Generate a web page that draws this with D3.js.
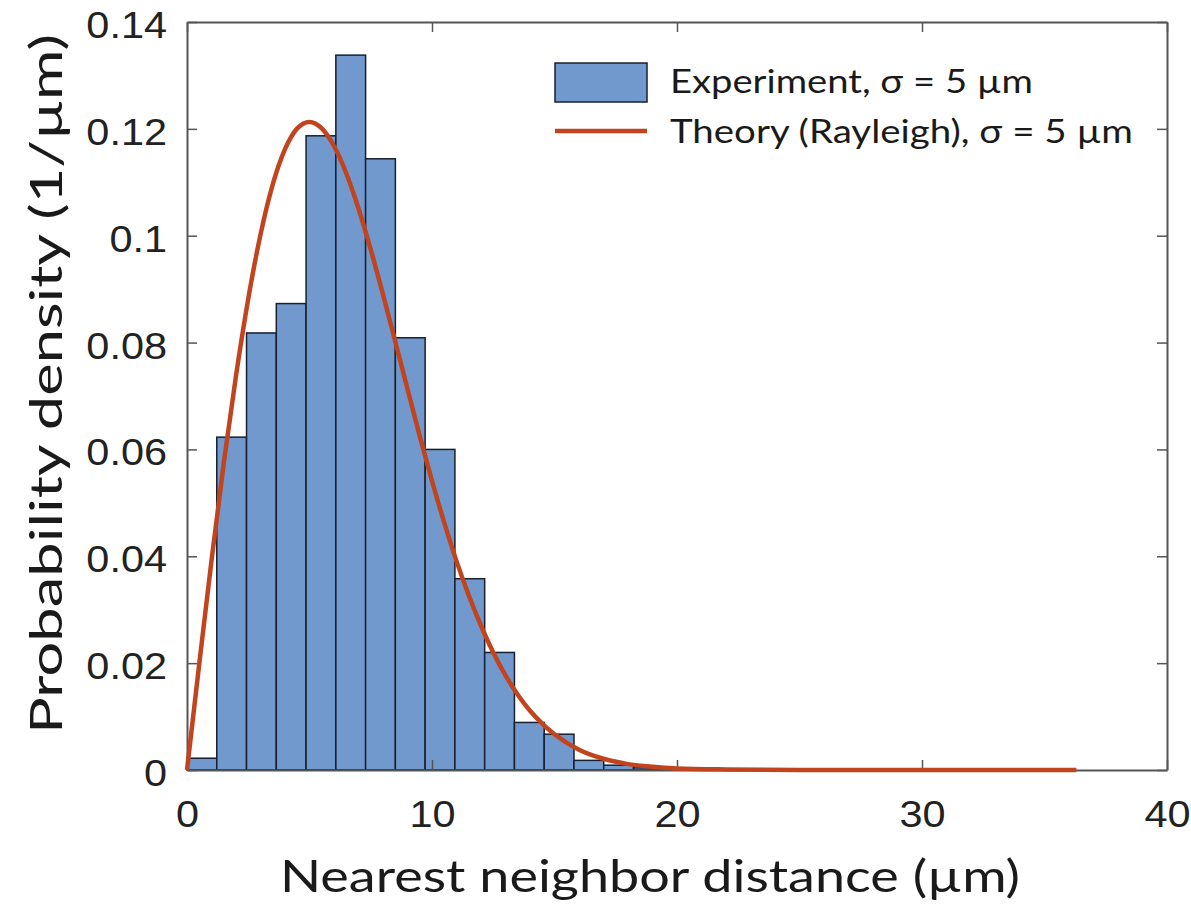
<!DOCTYPE html>
<html>
<head>
<meta charset="utf-8">
<script src="https://cdn.jsdelivr.net/npm/d3@7"></script>
<style>
  body { margin: 0; background: #fff; }
  svg { display: block; }
</style>
</head>
<body>
<svg id="chart"></svg>
<script>
'use strict';

// histogram bins (width in um) and heights
var binWidth = 1.215;
var binHeights = [0.0022, 0.0623, 0.0818, 0.0873, 0.1187, 0.1338, 0.1144, 0.0809,
  0.0600, 0.0358, 0.0220, 0.0089, 0.0067, 0.0018, 0.0009, 0.0004, 0.0002];

var curveX = [0, 0.5, 1, 1.5, 2, 2.5, 3, 3.5, 4, 4.5, 5, 5.5, 6, 6.5, 7, 7.5, 8, 8.5,
  9, 9.5, 10, 10.5, 11, 11.5, 12, 12.5, 13, 13.5, 14, 14.5, 15, 16, 17, 18, 19, 20,
  22, 25, 30, 36.3];
var curveY = [0, 0.0199, 0.0392, 0.0574, 0.0738, 0.0882, 0.1002, 0.1096, 0.1162, 0.1201,
  0.1213, 0.1201, 0.1168, 0.1117, 0.1051, 0.0974, 0.0890, 0.0802, 0.0713, 0.0625,
  0.0541, 0.0463, 0.0391, 0.0327, 0.0270, 0.0220, 0.0177, 0.0141, 0.0111, 0.0087,
  0.0067, 0.0038, 0.0021, 0.0011, 0.0006, 0.0003, 0.0001, 0, 0, 0];

var xTicks = [0, 10, 20, 30, 40];
var yTicks = [0, 0.02, 0.04, 0.06, 0.08, 0.1, 0.12, 0.14];
var legendLabels = ['Experiment, \u03c3 = 5 \u00b5m', 'Theory (Rayleigh), \u03c3 = 5 \u00b5m'];

var canvasWidth = 1191;
var canvasHeight = 909;
var margin = {top: 22, right: 24, bottom: 139, left: 187};
var width = canvasWidth - margin.left - margin.right;
var height = canvasHeight - margin.top - margin.bottom;

var barFill = '#7199cd';
var curveColor = '#c1441e';
var axisColor = '#555';
var tickFont = '"Liberation Sans", Arial, sans-serif';
var labelFont = 'Lato, "Open Sans", sans-serif';
// the original figure is a bit wider than tall-true, so text is stretched sideways
var stretch = 1.12;

function widen(sel, factor) {
  sel.each(function() {
    var w = this.getComputedTextLength();
    d3.select(this)
      .attr('textLength', w * factor)
      .attr('lengthAdjust', 'spacingAndGlyphs');
  });
}

var svg = d3.select('#chart')
  .attr('width', canvasWidth)
  .attr('height', canvasHeight);

var g = svg.append('g')
  .attr('transform', 'translate(' + margin.left + ',' + margin.top + ')');

var xScale = d3.scaleLinear().domain([0, 40]).range([0, width]);
var yScale = d3.scaleLinear().domain([0, 0.14]).range([height, 0]);

// bars
g.selectAll('rect.bar')
  .data(binHeights)
  .enter()
  .append('rect')
  .attr('class', 'bar')
  .attr('x', function(d, i) { return xScale(i * binWidth); })
  .attr('y', function(d) { return yScale(d); })
  .attr('width', function(d, i) { return xScale((i + 1) * binWidth) - xScale(i * binWidth); })
  .attr('height', function(d) { return height - yScale(d); })
  .attr('fill', barFill)
  .attr('stroke', '#17202e')
  .attr('stroke-width', 1.5);

// axes (box with inward ticks)
function styleAxis(sel) {
  sel.selectAll('path.domain').attr('stroke', axisColor).attr('stroke-width', 2);
  sel.selectAll('.tick line').attr('stroke', axisColor).attr('stroke-width', 1.5);
  sel.selectAll('.tick text')
    .attr('fill', '#222')
    .style('font-family', tickFont)
    .style('font-size', '37px');
}

var xAxisG = g.append('g')
  .attr('transform', 'translate(0,' + height + ')')
  .call(d3.axisBottom(xScale).tickValues(xTicks).tickSizeInner(-10).tickSizeOuter(0)
    .tickPadding(31).tickFormat(d3.format('d')))
  .call(styleAxis);

var yAxisG = g.append('g')
  .call(d3.axisLeft(yScale).tickValues(yTicks).tickSizeInner(-10).tickSizeOuter(0)
    .tickPadding(20).tickFormat(function(d) { return d === 0 ? '0' : String(+d.toFixed(2)); }))
  .call(styleAxis);
yAxisG.selectAll('.tick text').attr('dy', '0.42em');

widen(xAxisG.selectAll('.tick text'), stretch);
widen(yAxisG.selectAll('.tick text'), stretch);

g.append('g')
  .call(d3.axisTop(xScale).tickValues(xTicks).tickSizeInner(-10).tickSizeOuter(0).tickFormat(''))
  .call(styleAxis);

g.append('g')
  .attr('transform', 'translate(' + width + ',0)')
  .call(d3.axisRight(yScale).tickValues(yTicks).tickSizeInner(-10).tickSizeOuter(0).tickFormat(''))
  .call(styleAxis);

// theory curve
var line = d3.line()
  .x(function(d) { return xScale(d[0]); })
  .y(function(d) { return yScale(d[1]); })
  .curve(d3.curveMonotoneX);

g.append('path')
  .datum(d3.zip(curveX, curveY))
  .attr('d', line)
  .attr('fill', 'none')
  .attr('stroke', curveColor)
  .attr('stroke-width', 4.5)
  .attr('stroke-linejoin', 'round');

// axis titles
svg.append('text')
  .attr('x', 650)
  .attr('y', 892)
  .attr('text-anchor', 'middle')
  .style('font-family', labelFont)
  .style('font-size', '45px')
  .attr('fill', '#1a1a1a')
  .attr('textLength', 740)
  .attr('lengthAdjust', 'spacingAndGlyphs')
  .text('Nearest neighbor distance (\u00b5m)');

svg.append('text')
  .attr('transform', 'translate(62,384) rotate(-90)')
  .attr('text-anchor', 'middle')
  .style('font-family', labelFont)
  .style('font-size', '45px')
  .attr('fill', '#1a1a1a')
  .attr('textLength', 700)
  .attr('lengthAdjust', 'spacingAndGlyphs')
  .text('Probability density (1/\u00b5m)');

// legend
var legend = svg.append('g').attr('transform', 'translate(555,63)');

legend.append('rect')
  .attr('x', 0).attr('y', 0)
  .attr('width', 92).attr('height', 39)
  .attr('fill', barFill)
  .attr('stroke', '#17202e')
  .attr('stroke-width', 1.5);

legend.append('line')
  .attr('x1', 0).attr('x2', 92)
  .attr('y1', 68).attr('y2', 68)
  .attr('stroke', curveColor)
  .attr('stroke-width', 4.5);

legend.selectAll('text.leg')
  .data(legendLabels)
  .enter()
  .append('text')
  .attr('class', 'leg')
  .attr('x', 115)
  .attr('y', function(d, i) { return 30 + i * 49.5; })
  .style('font-family', labelFont)
  .style('font-size', '32px')
  .attr('fill', '#1a1a1a')
  .attr('textLength', function(d, i) { return i === 0 ? 363 : 463; })
  .attr('lengthAdjust', 'spacingAndGlyphs')
  .text(function(d) { return d; });
</script>
</body>
</html>
